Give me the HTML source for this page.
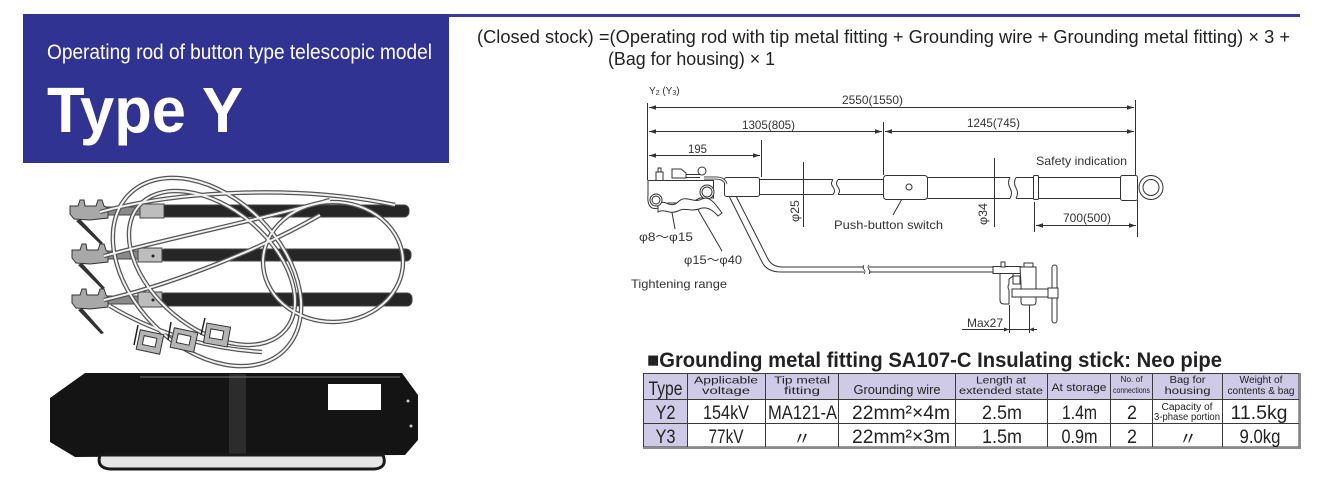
<!DOCTYPE html>
<html><head><meta charset="utf-8">
<style>
html,body{margin:0;padding:0;background:#fff;}
svg{display:block;}
text{font-family:"Liberation Sans","Noto Sans CJK JP",sans-serif;}
</style></head><body>
<svg width="1320" height="486" viewBox="0 0 1320 486" xmlns="http://www.w3.org/2000/svg">
<defs>
<marker id="a" markerWidth="8" markerHeight="6" refX="7" refY="3" orient="auto-start-reverse" markerUnits="userSpaceOnUse"><path d="M0,0.8 L7,3 L0,5.2 Z" fill="#333"/></marker>
</defs>

<!-- header -->
<rect x="23" y="14" width="1277" height="3" fill="#3a3d98"/>
<rect x="23" y="14" width="426" height="149" fill="#303392"/>
<text x="47" y="59" font-size="21" fill="#fff" textLength="385" lengthAdjust="spacingAndGlyphs">Operating rod of button type telescopic model</text>
<text x="47" y="132" font-size="64" font-weight="bold" fill="#fff" textLength="196" lengthAdjust="spacingAndGlyphs">Type Y</text>

<text x="477" y="43" font-size="18" fill="#222" textLength="813" lengthAdjust="spacingAndGlyphs">(Closed stock) =(Operating rod with tip metal fitting + Grounding wire + Grounding metal fitting) × 3 +</text>
<text x="608" y="65" font-size="18" fill="#222" textLength="167" lengthAdjust="spacingAndGlyphs">(Bag for housing) × 1</text>

<!-- ===== photo ===== -->
<g>
  <g stroke="#444" stroke-width="1">
    <rect x="160" y="205" width="249" height="12" rx="5" fill="#262626"/>
    <rect x="160" y="249" width="251" height="12" rx="5" fill="#262626"/>
    <rect x="160" y="293" width="252" height="13" rx="5" fill="#262626"/>
    <rect x="104" y="207" width="40" height="8" fill="#8a8a8a"/>
    <rect x="104" y="251" width="40" height="8" fill="#8a8a8a"/>
    <rect x="104" y="296" width="40" height="8" fill="#8a8a8a"/>
    <rect x="140" y="204" width="24" height="14" fill="#bdbdbd"/>
    <rect x="138" y="248" width="24" height="14" fill="#bdbdbd"/>
    <rect x="138" y="292" width="24" height="15" fill="#bdbdbd"/>
  </g>
  <circle cx="153" cy="256" r="1.5" fill="#222"/><circle cx="153" cy="300" r="1.5" fill="#222"/>
  <g fill="#a8a8a8" stroke="#333" stroke-width="1">
    <path d="M70,206 L78,206 L80,200 L84,200 L85,206 L96,206 L98,200 L102,200 L104,206 L108,208 L108,218 L90,220 L74,219 L70,214 Z"/>
    <path d="M72,250 L80,250 L82,244 L86,244 L87,250 L98,250 L100,244 L104,244 L106,250 L108,252 L108,262 L90,264 L76,263 L72,258 Z"/>
    <path d="M72,295 L80,295 L82,289 L86,289 L87,295 L98,295 L100,289 L104,289 L106,295 L108,297 L108,307 L90,309 L76,308 L72,303 Z"/>
  </g>
  <g fill="#333">
    <path d="M80,219 L103,243 L100,244 L76,221 Z"/>
    <path d="M82,263 L105,288 L102,289 L78,265 Z"/>
    <path d="M82,308 L104,333 L101,334 L78,310 Z"/>
  </g>
  <g fill="none" stroke="#555" stroke-width="4.5">
    <ellipse cx="207" cy="272" rx="110" ry="75" transform="rotate(45 207 272)"/>
    <ellipse cx="212" cy="268" rx="96" ry="60" transform="rotate(40 212 268)"/>
    <ellipse cx="333" cy="262" rx="70" ry="60"/>
    <path d="M100,212 C180,190 300,185 395,205"/>
    <path d="M104,256 C170,238 250,222 330,200"/>
    <path d="M104,300 C170,285 260,250 320,215"/>
    <path d="M110,306 C150,330 200,348 262,352"/>
  </g>
  <g fill="none" stroke="#f2f2f2" stroke-width="2">
    <ellipse cx="207" cy="272" rx="110" ry="75" transform="rotate(45 207 272)"/>
    <ellipse cx="212" cy="268" rx="96" ry="60" transform="rotate(40 212 268)"/>
    <ellipse cx="333" cy="262" rx="70" ry="60"/>
    <path d="M100,212 C180,190 300,185 395,205"/>
    <path d="M104,256 C170,238 250,222 330,200"/>
    <path d="M104,300 C170,285 260,250 320,215"/>
    <path d="M110,306 C150,330 200,348 262,352"/>
  </g>
  <g stroke="#333" stroke-width="1">
    <rect x="138" y="332" width="24" height="20" fill="#b5b5b5" transform="rotate(12 150 342)"/>
    <rect x="143" y="337" width="13" height="9" fill="#fff" transform="rotate(12 150 342)"/>
    <rect x="172" y="330" width="24" height="20" fill="#b5b5b5" transform="rotate(12 184 340)"/>
    <rect x="177" y="335" width="13" height="9" fill="#fff" transform="rotate(12 184 340)"/>
    <rect x="205" y="325" width="24" height="20" fill="#b5b5b5" transform="rotate(10 217 335)"/>
    <rect x="210" y="330" width="13" height="9" fill="#fff" transform="rotate(10 217 335)"/>
  </g>
  <g stroke="#222" stroke-width="1.5">
    <line x1="138" y1="325" x2="134" y2="345"/><line x1="171" y1="322" x2="168" y2="340"/><line x1="205" y1="318" x2="201" y2="335"/>
  </g>
  <path d="M85,373 L402,373 L418,395 L418,440 L405,455 L75,457 L50,442 L50,398 Z" fill="#141414"/>
  <rect x="229" y="374" width="17" height="82" fill="#2c2c2c"/>
  <line x1="140" y1="377" x2="400" y2="377" stroke="#777" stroke-width="1"/>
  <rect x="328" y="384" width="53" height="26" fill="#fff"/>
  <circle cx="408" cy="401" r="1.5" fill="#ccc"/><circle cx="411" cy="426" r="1.5" fill="#ccc"/>
  <path d="M100,455 Q96,468 110,469 L374,469 Q388,468 383,455 Z" fill="#e6e6e6" stroke="#1a1a1a" stroke-width="3"/>
</g>

<!-- ===== diagram ===== -->
<g fill="#333">
<text x="649" y="94" font-size="10">Y<tspan font-size="7" dy="1">2</tspan><tspan dy="-1"> (Y</tspan><tspan font-size="7" dy="1">3</tspan><tspan dy="-1">)</tspan></text>
<text x="842" y="104" font-size="12" textLength="61" lengthAdjust="spacingAndGlyphs">2550(1550)</text>
<text x="742" y="129" font-size="12" textLength="53" lengthAdjust="spacingAndGlyphs">1305(805)</text>
<text x="967" y="127" font-size="12" textLength="53" lengthAdjust="spacingAndGlyphs">1245(745)</text>
<text x="688" y="153" font-size="12" textLength="19" lengthAdjust="spacingAndGlyphs">195</text>
<text x="1036" y="165" font-size="12" textLength="91" lengthAdjust="spacingAndGlyphs">Safety indication</text>
<text x="1063" y="222" font-size="12" textLength="48" lengthAdjust="spacingAndGlyphs">700(500)</text>
<text x="834" y="229" font-size="12" textLength="109" lengthAdjust="spacingAndGlyphs">Push-button switch</text>
<text x="639" y="241" font-size="12" textLength="54" lengthAdjust="spacingAndGlyphs">φ8～φ15</text>
<text x="684" y="264" font-size="12" textLength="58" lengthAdjust="spacingAndGlyphs">φ15～φ40</text>
<text x="631" y="288" font-size="12" textLength="96" lengthAdjust="spacingAndGlyphs">Tightening range</text>
<text x="967" y="327" font-size="12" textLength="36" lengthAdjust="spacingAndGlyphs">Max27</text>
<text transform="translate(799 222) rotate(-90)" font-size="12" textLength="22" lengthAdjust="spacingAndGlyphs">φ25</text>
<text transform="translate(987 225) rotate(-90)" font-size="12" textLength="22" lengthAdjust="spacingAndGlyphs">φ34</text>
</g>

<g stroke="#333" stroke-width="1" fill="none">
  <line x1="647.5" y1="103" x2="647.5" y2="180"/>
  <line x1="761.5" y1="140" x2="761.5" y2="177"/>
  <line x1="883.5" y1="122" x2="883.5" y2="175"/>
  <line x1="1135.5" y1="100" x2="1135.5" y2="175"/>
  <line x1="1034.5" y1="202" x2="1034.5" y2="232"/>
  <line x1="1137.5" y1="200" x2="1137.5" y2="237"/>
  <line x1="649" y1="107.5" x2="1134" y2="107.5" marker-start="url(#a)" marker-end="url(#a)"/>
  <line x1="649" y1="131.5" x2="882" y2="131.5" marker-start="url(#a)" marker-end="url(#a)"/>
  <line x1="885" y1="131.5" x2="1134" y2="131.5" marker-start="url(#a)" marker-end="url(#a)"/>
  <line x1="649" y1="155.5" x2="760" y2="155.5" marker-start="url(#a)" marker-end="url(#a)"/>
  <line x1="1036" y1="225.5" x2="1136" y2="225.5" marker-start="url(#a)" marker-end="url(#a)"/>
  <line x1="803.5" y1="162" x2="803.5" y2="227"/>
  <line x1="994.5" y1="158" x2="994.5" y2="227"/>
  <line x1="907" y1="190" x2="893" y2="215"/>
  <line x1="671" y1="207" x2="675" y2="229"/>
  <line x1="697" y1="208" x2="722" y2="251"/>
  <line x1="962" y1="329.5" x2="1037" y2="329.5"/>
  <line x1="1009.5" y1="305" x2="1009.5" y2="333"/>
  <line x1="1029.5" y1="305" x2="1029.5" y2="333"/>
</g>
<path d="M1009,329.5 l-5,-2 v4 z M1029,329.5 l5,-2 v4 z" fill="#333"/>

<g stroke="#333" stroke-width="1" fill="none">
  <path d="M729,196 L762,262 Q767,272 781,272 L993,272"/>
  <path d="M736,196 L768,259 Q772,267 783,267 L993,267"/>
</g>
<rect x="864" y="265" width="5" height="9" fill="#fff"/>
<path d="M864,265 q-2,2 0,4.5 q2,2 0,4.5 M869,265 q-2,2 0,4.5 q2,2 0,4.5" stroke="#333" fill="none" stroke-width="0.8"/>

<g stroke="#333" stroke-width="1" fill="#fff">
  <rect x="993" y="266.5" width="28" height="7"/>
  <rect x="1001" y="262" width="4" height="5"/>
  <path d="M1000,273.5 V300 Q1000,304 1004,304 H1009 V290 Q1007,287 1009,284 V279 L1013,276 V273.5 Z"/>
  <path d="M1013,276 L1020,276 V284 L1013,284 Z"/>
  <path d="M1020,267 H1036 V302 Q1036,305 1033,305 H1024 Q1021,305 1021,302 V284 Z"/>
  <rect x="1024" y="263" width="9" height="4"/>
  <rect x="1012" y="289" width="38" height="8"/>
  <rect x="1052" y="265" width="5" height="58" rx="2.5"/>
  <rect x="1048" y="288" width="10" height="10"/>
</g>

<g stroke="#333" stroke-width="1" fill="#fff">
  <rect x="724.5" y="177.5" width="35" height="19" rx="2"/>
  <path d="M759.5,179.5 H833 M759.5,194.5 H833"/>
  <path d="M833,179.5 q-3,4 0,7.5 q3,4 0,7.5" fill="none"/>
  <path d="M838,179.5 q-3,4 0,7.5 q3,4 0,7.5" fill="none"/>
  <path d="M838,179.5 H883 M838,194.5 H883" fill="none"/>
  <rect x="883.5" y="175.5" width="44" height="24" rx="3"/>
  <circle cx="909" cy="187" r="3"/>
  <path d="M927.5,177.5 H1010 M927.5,198.5 H1010" fill="none"/>
  <path d="M1010,177.5 q-3,5 0,10.5 q3,5 0,10.5" fill="none"/>
  <path d="M1016,177.5 q-3,5 0,10.5 q3,5 0,10.5" fill="none"/>
  <path d="M1016,177.5 H1120 M1016,198.5 H1120" fill="none"/>
  <rect x="1033.5" y="175.5" width="5" height="24" rx="1"/>
  <rect x="1120.5" y="175.5" width="17" height="25" rx="2"/>
  <circle cx="1151" cy="187.5" r="12"/>
  <circle cx="1151" cy="187.5" r="8"/>
  <path d="M704,178 H716 Q724,178 726,184" fill="none" stroke-width="3"/>
  <path d="M704,178 H716 Q724,178 726,184" fill="none" stroke="#fff" stroke-width="1.2"/>
  <path d="M648,180.5 H713.5 V198 H700 L690,203 H668 Q660,210 652,208 Q647,205 648,195 Z"/>
  <rect x="656" y="172" width="7" height="8.5"/>
  <rect x="658" y="168" width="3" height="4"/>
  <path d="M672,169 H681 L686,173 V178 H672 Z"/>
  <path d="M686,174.5 H700 M686,177.5 H700" fill="none"/>
  <circle cx="702" cy="171" r="4"/>
  <circle cx="707" cy="192" r="7"/>
  <circle cx="707" cy="192" r="5"/>
  <path d="M658,205 C664,197 670,210 678,202 C686,194 694,204 702,199 C710,195 716,205 722,213 L718,216 C712,209 706,206 699,209 C690,212 685,207 678,211 C670,215 664,208 658,212 Z"/>
  <circle cx="656" cy="200" r="6"/>
  <circle cx="656" cy="200" r="4"/>
</g>

<text x="647" y="367" font-size="21" font-weight="bold" fill="#222" textLength="575" lengthAdjust="spacingAndGlyphs">■Grounding metal fitting SA107-C Insulating stick: Neo pipe</text>

<rect x="643" y="373" width="656" height="26" fill="#cfcbe7"/>
<rect x="643" y="399" width="44" height="48" fill="#cfcbe7"/>
<g stroke="#3a3a3a" stroke-width="1" fill="none">
  <rect x="643.5" y="373.5" width="655.5" height="73.5"/>
  <line x1="643" y1="399.5" x2="1299" y2="399.5"/>
  <line x1="643" y1="423.5" x2="1299" y2="423.5"/>
  <line x1="687.5" y1="373" x2="687.5" y2="447"/>
  <line x1="765.5" y1="373" x2="765.5" y2="447"/>
  <line x1="838.5" y1="373" x2="838.5" y2="447"/>
  <line x1="955.5" y1="373" x2="955.5" y2="447"/>
  <line x1="1047.5" y1="373" x2="1047.5" y2="447"/>
  <line x1="1110.5" y1="373" x2="1110.5" y2="447"/>
  <line x1="1152.5" y1="373" x2="1152.5" y2="447"/>
  <line x1="1222.5" y1="373" x2="1222.5" y2="447"/>
</g>
<rect x="643" y="447" width="657" height="2" fill="#8a8a8a"/>
<rect x="1299" y="373" width="2" height="76" fill="#8a8a8a"/>

<g fill="#222" text-anchor="middle">
  <text x="665.5" y="395" font-size="19" textLength="34" lengthAdjust="spacingAndGlyphs">Type</text>
  <text x="726" y="383.5" font-size="10.5" textLength="64" lengthAdjust="spacingAndGlyphs">Applicable</text>
  <text x="726" y="394" font-size="10.5" textLength="48" lengthAdjust="spacingAndGlyphs">voltage</text>
  <text x="802" y="383.5" font-size="10.5" textLength="56" lengthAdjust="spacingAndGlyphs">Tip metal</text>
  <text x="802" y="394" font-size="10.5" textLength="36" lengthAdjust="spacingAndGlyphs">fitting</text>
  <text x="897" y="394" font-size="13" textLength="87" lengthAdjust="spacingAndGlyphs">Grounding wire</text>
  <text x="1001" y="383.5" font-size="10.5" textLength="50" lengthAdjust="spacingAndGlyphs">Length at</text>
  <text x="1001" y="394" font-size="10.5" textLength="84" lengthAdjust="spacingAndGlyphs">extended state</text>
  <text x="1079" y="391" font-size="11" textLength="55" lengthAdjust="spacingAndGlyphs">At storage</text>
  <text x="1131.5" y="382" font-size="8.5" textLength="22" lengthAdjust="spacingAndGlyphs">No. of</text>
  <text x="1131.5" y="393" font-size="8.5" textLength="37" lengthAdjust="spacingAndGlyphs">connections</text>
  <text x="1187.5" y="383" font-size="10.5" textLength="36" lengthAdjust="spacingAndGlyphs">Bag for</text>
  <text x="1187.5" y="394" font-size="10.5" textLength="46" lengthAdjust="spacingAndGlyphs">housing</text>
  <text x="1261" y="383" font-size="10.5" textLength="43" lengthAdjust="spacingAndGlyphs">Weight of</text>
  <text x="1261" y="394" font-size="10.5" textLength="67" lengthAdjust="spacingAndGlyphs">contents &amp; bag</text>

  <text x="665.5" y="419" font-size="19" textLength="20" lengthAdjust="spacingAndGlyphs">Y2</text>
  <text x="726" y="419" font-size="19" textLength="46" lengthAdjust="spacingAndGlyphs">154kV</text>
  <text x="802.5" y="419" font-size="19" textLength="69" lengthAdjust="spacingAndGlyphs">MA121-A</text>
  <text x="901" y="419" font-size="19" textLength="98" lengthAdjust="spacingAndGlyphs">22mm²×4m</text>
  <text x="1002" y="419" font-size="19" textLength="40" lengthAdjust="spacingAndGlyphs">2.5m</text>
  <text x="1079.5" y="419" font-size="19" textLength="35" lengthAdjust="spacingAndGlyphs">1.4m</text>
  <text x="1132" y="419" font-size="19" textLength="10" lengthAdjust="spacingAndGlyphs">2</text>
  <text x="1187" y="410" font-size="10" textLength="51" lengthAdjust="spacingAndGlyphs">Capacity of</text>
  <text x="1187" y="420" font-size="10" textLength="66" lengthAdjust="spacingAndGlyphs">3-phase portion</text>
  <text x="1259" y="419" font-size="19" textLength="57" lengthAdjust="spacingAndGlyphs">11.5kg</text>

  <text x="665.5" y="443" font-size="19" textLength="20" lengthAdjust="spacingAndGlyphs">Y3</text>
  <text x="726" y="443" font-size="19" textLength="35" lengthAdjust="spacingAndGlyphs">77kV</text>
  <text x="802" y="445" font-size="18">〃</text>
  <text x="901" y="443" font-size="19" textLength="98" lengthAdjust="spacingAndGlyphs">22mm²×3m</text>
  <text x="1002" y="443" font-size="19" textLength="40" lengthAdjust="spacingAndGlyphs">1.5m</text>
  <text x="1079.5" y="443" font-size="19" textLength="36" lengthAdjust="spacingAndGlyphs">0.9m</text>
  <text x="1132" y="443" font-size="19" textLength="10" lengthAdjust="spacingAndGlyphs">2</text>
  <text x="1188" y="445" font-size="18">〃</text>
  <text x="1260" y="443" font-size="19" textLength="41" lengthAdjust="spacingAndGlyphs">9.0kg</text>
</g>
</svg>
</body></html>
